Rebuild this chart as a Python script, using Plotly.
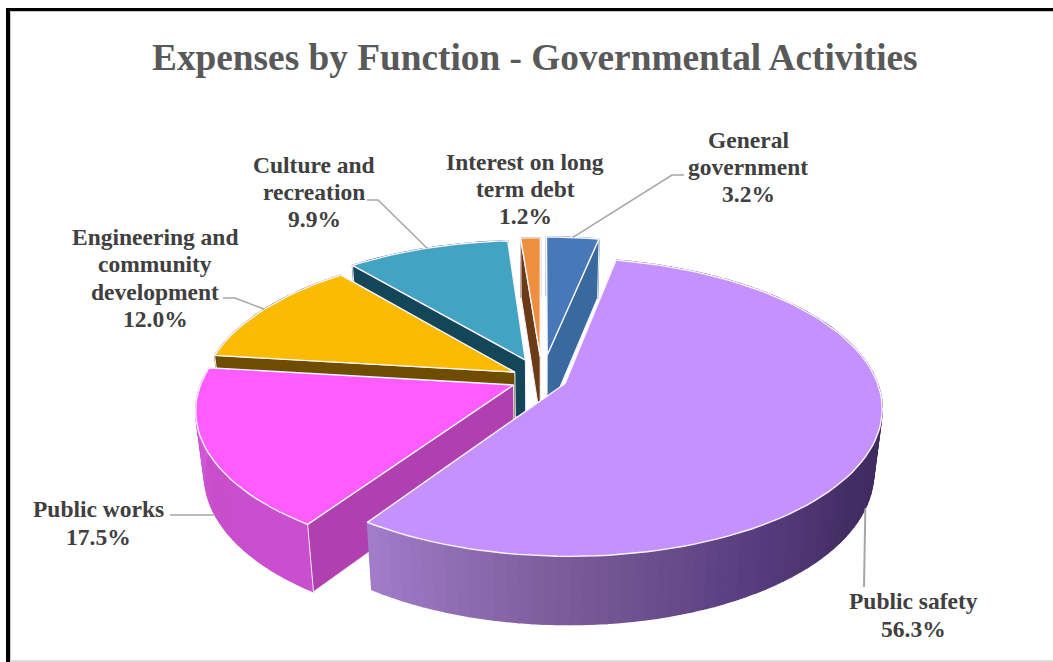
import math
import plotly.graph_objects as go

# Chart content
title_text = "Expenses by Function - Governmental Activities"
categories = ["General<br>government", "Public safety", "Public works",
              "Engineering and<br>community<br>development", "Culture and<br>recreation",
              "Interest on long<br>term debt"]
values = [3.2, 56.3, 17.5, 12.0, 9.9, 1.2]
explode = [0.17, 0.08, 0.10, 0.10, 0.145, 0.16]

# Slice styling
top_colors = ["#4779b9", "#c491ff", "#ff5cff", "#fbbb00", "#43a3c3", "#ee8f3e"]
side_colors = ["#386a9f", "#6a4c8c", "#b03fb0", "#6e4d00", "#14465a", "#6b3a16"]

# Outer wall shading stops: (angle in degrees, rgb)
wall_shading = {
    1: [(11, (62, 42, 95)), (100, (62, 42, 95)), (125, (68, 46, 102)), (150, (88, 62, 128)),
        (180, (122, 92, 152)), (200, (146, 112, 182)), (215, (164, 126, 204))],
    2: [(214, (203, 80, 208)), (245, (200, 78, 204)), (278, (216, 96, 226))],
}

# Label placement in pixels: centre of text block and start of the leader line
label_pos = [(748, 167), (913, 615), (98, 523), (155, 278), (314, 192), (525, 189)]
label_size = 23.5
line_gap = 27.3
leaders = [
    [(684, 175), (672, 175)],
    [(864, 587)],
    [(170, 515)],
    [(223, 298), (235, 298)],
    [(367, 200), (378, 200)],
    None,
]
leader_level = [0, 1, 1, 0, 0, 0]

# Projection of the tilted disc onto the page
CX, CY = 542, 379
RX, RY = 311, 144.0
PERSP = 0.158
BOTTOM_Y, BOTTOM_K, BOTTOM_X = 442, 1.03, 0.975


def project(ground_x, ground_z, level):
    s = 1 / (1 + PERSP * ground_z)
    px = RX * ground_x * s
    py = -RY * ground_z * s
    if level:
        return CX + px * BOTTOM_X, BOTTOM_Y + py * BOTTOM_K
    return CX + px, CY + py


def rim(angle, mid, pull, level, radius=1.0):
    a, m = math.radians(angle), math.radians(mid)
    return project(radius * math.sin(a) + pull * math.sin(m),
                   radius * math.cos(a) + pull * math.cos(m), level)


def shade(stops, angle):
    for (a0, c0), (a1, c1) in zip(stops, stops[1:]):
        if a0 <= angle <= a1:
            f = (angle - a0) / (a1 - a0)
            return "rgb(%d,%d,%d)" % tuple(c0[i] + (c1[i] - c0[i]) * f for i in range(3))
    return "rgb(%d,%d,%d)" % stops[-1][1]


def polygon(points, fill, line=None, width=0.0):
    return go.Scatter(x=[p[0] for p in points] + [points[0][0]],
                      y=[p[1] for p in points] + [points[0][1]],
                      mode="lines", fill="toself", fillcolor=fill,
                      line=dict(color=line or fill, width=width),
                      hoverinfo="skip", showlegend=False)


total = sum(values)
spans = []
running = 0.0
for v in values:
    spans.append((360 * running / total, 360 * (running + v) / total))
    running += v

fig = go.Figure()
# Slices are painted from the back of the pie to the front
order = [0, 5, 4, 3, 2, 1]
for i in order:
    start, end = spans[i]
    mid = (start + end) / 2
    pull = explode[i]
    steps = max(2, int((end - start) / 2))
    angles = [start + (end - start) * k / steps for k in range(steps + 1)]

    # outer wall, in narrow strips so shading can vary around the rim
    for a0, a1 in zip(angles, angles[1:]):
        colour = shade(wall_shading[i], (a0 + a1) / 2) if i in wall_shading else side_colors[i]
        quad = [rim(a0, mid, pull, 0), rim(a1, mid, pull, 0),
                rim(a1, mid, pull, 1), rim(a0, mid, pull, 1)]
        fig.add_trace(polygon(quad, colour, width=1.4))

    # cut faces: only those turned towards the viewer are painted
    for a, sign in ((start, -1), (end, 1)):
        normal_z = -sign * math.sin(math.radians(a))
        if normal_z >= -1e-9 or abs(normal_z) < 1e-6:
            continue
        quad = [rim(a, mid, pull, 0, 0), rim(a, mid, pull, 0),
                rim(a, mid, pull, 1), rim(a, mid, pull, 1, 0)]
        fig.add_trace(polygon(quad, side_colors[i], line="#f4eef8", width=1))

    # top face
    top = [rim(start, mid, pull, 0, 0)] + [rim(a, mid, pull, 0) for a in angles]
    fig.add_trace(polygon(top, top_colors[i], line="#fbf6ff", width=1.4))

# Leader lines, running from the label to the middle of each slice's rim
for i, path in enumerate(leaders):
    if not path:
        continue
    start, end = spans[i]
    mid = (start + end) / 2
    anchor = rim(mid, mid, explode[i], leader_level[i])
    pts = path + [anchor]
    fig.add_trace(go.Scatter(x=[p[0] for p in pts], y=[p[1] for p in pts], mode="lines",
                             line=dict(color="#a6a6a6", width=2 if i == 1 else 1.5),
                             hoverinfo="skip", showlegend=False))

annotations = [
    dict(x=535, y=57, text="<b>%s</b>" % title_text, showarrow=False, xref="x", yref="y",
         xanchor="center", yanchor="middle",
         font=dict(family="Liberation Serif", size=37.3, color="#595959"))
]
# Each label line is placed on its own so the line spacing stays tight
for i, (lx, ly) in enumerate(label_pos):
    rows = categories[i].split("<br>") + ["%.1f%%" % values[i]]
    first = ly - line_gap * (len(rows) - 1) / 2
    for k, row in enumerate(rows):
        annotations.append(dict(
            x=lx, y=first + k * line_gap, text="<b>%s</b>" % row,
            showarrow=False, xref="x", yref="y", xanchor="center", yanchor="middle",
            font=dict(family="Liberation Serif", size=label_size, color="#404040")))

# Frame: heavy top and left rules, faint rule along the bottom
shapes = [
    dict(type="rect", x0=10, x1=1053, y0=11, y1=12, line_width=0, fillcolor="#c8c8c8", layer="below"),
    dict(type="rect", x0=10, x1=11, y0=11, y1=662, line_width=0, fillcolor="#c8c8c8", layer="below"),
    dict(type="rect", x0=6, x1=10, y0=8, y1=662, line_width=0, fillcolor="#000000", layer="below"),
    dict(type="rect", x0=6, x1=1053, y0=8, y1=11, line_width=0, fillcolor="#000000", layer="below"),
    dict(type="rect", x0=10, x1=1053, y0=660, y1=662, line_width=0, fillcolor="#dcdcdc", layer="below"),
]

fig.update_layout(
    width=1053, height=662, margin=dict(l=0, r=0, t=0, b=0),
    paper_bgcolor="white", plot_bgcolor="white", showlegend=False,
    xaxis=dict(range=[0, 1053], visible=False, fixedrange=True),
    yaxis=dict(range=[662, 0], visible=False, fixedrange=True),
    annotations=annotations, shapes=shapes,
)
fig.write_html("out.html", config={"displayModeBar": False})
